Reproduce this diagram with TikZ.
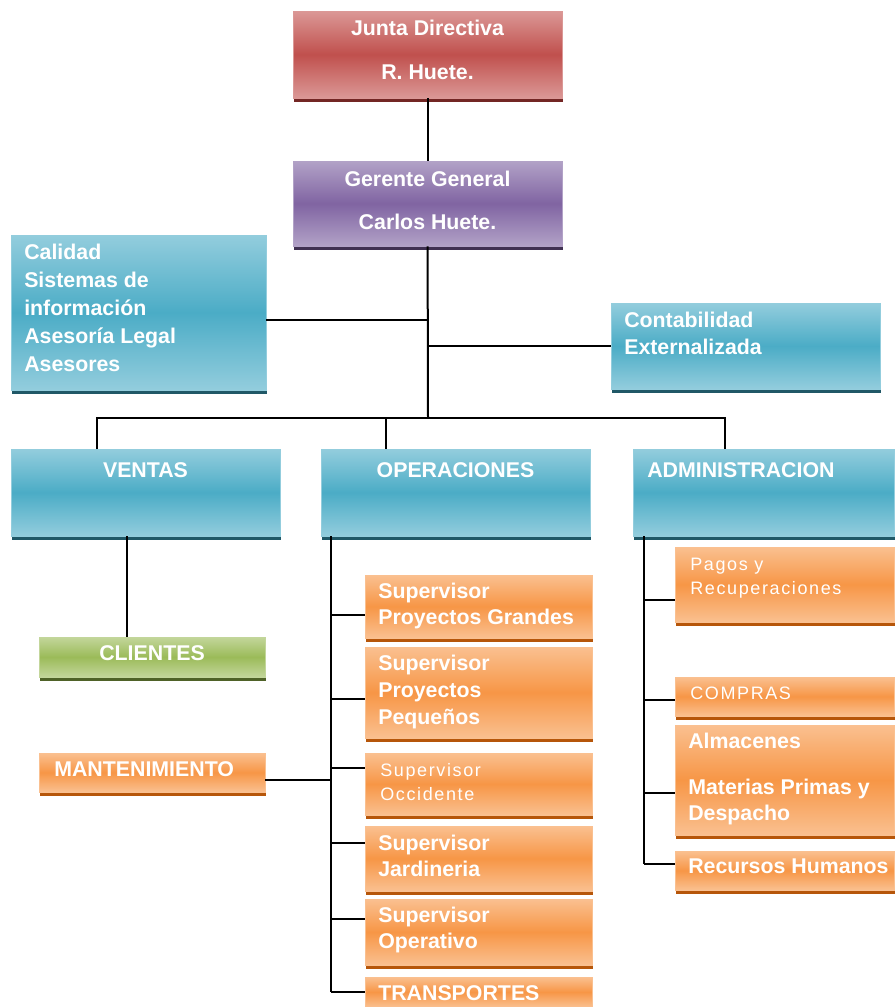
\documentclass[tikz,border=0pt]{standalone}
\usepackage{fontspec}
\setmainfont{Liberation Sans}
\newfontfamily\lightfont[LetterSpace=9]{Liberation Sans}
\usetikzlibrary{calc,shadows}

\definecolor{redmd}{RGB}{192,80,77}
\definecolor{redlt}{RGB}{219,152,150}
\definecolor{reddk}{RGB}{115,38,36}
\definecolor{purmd}{RGB}{128,100,162}
\definecolor{purlt}{RGB}{178,162,199}
\definecolor{purdk}{RGB}{64,49,82}
\definecolor{blumd}{RGB}{75,172,198}
\definecolor{blult}{RGB}{147,205,221}
\definecolor{bludk}{RGB}{32,88,103}
\definecolor{grnmd}{RGB}{155,187,89}
\definecolor{grnlt}{RGB}{195,214,155}
\definecolor{grndk}{RGB}{79,98,40}
\definecolor{ormd}{RGB}{247,150,70}
\definecolor{orlt}{RGB}{250,192,144}
\definecolor{ordk}{RGB}{182,86,10}

\tikzset{
  box/.style 2 args={rectangle, inner sep=0pt, line width=0.6pt, minimum width=#1*0.75pt, minimum height=#2*0.75pt},
  tint/.style n args={3}{top color=#2, bottom color=#2, middle color=#1, draw=#2,
    general shadow={fill=#3, shadow xshift=1pt, shadow yshift=-2.8pt}},
  redbox/.style={tint={redmd}{redlt}{reddk}},
  purbox/.style={tint={purmd}{purlt}{purdk}},
  blubox/.style={tint={blumd}{blult}{bludk}},
  grnbox/.style={tint={grnmd}{grnlt}{grndk}},
  orbox/.style={tint={ormd}{orlt}{ordk}},
  wire/.style={draw=black, line width=1.5pt},
  lbl/.style={text=white, inner sep=0pt, font=\fontsize{16}{#1}\selectfont\bfseries},
  lbl/.default=19.5,
  lbllight/.style={text=white, inner sep=0pt, font=\fontsize{13.5}{#1}\selectfont\lightfont},
  lbllight/.default=18
}

\begin{document}
\begin{tikzpicture}[x=0.75pt,y=0.75pt,yscale=-1,xscale=1]
\useasboundingbox (0,0) rectangle (894,1007);

%Shape: Rectangle [junta, gerente]
\node (junta) [box={269}{87}, redbox] at (427.5,54.5) {};
\node (gerente) [box={269}{85}, purbox] at (427.5,203.5) {};
%Shape: Rectangle [staff]
\node (calidad) [box={255}{155}, blubox] at (138.5,312.5) {};
\node (contab) [box={269}{86}, blubox] at (745.5,346) {};
%Shape: Rectangle [areas]
\node (ventas) [box={269}{87}, blubox] at (145.5,492.5) {};
\node (operaciones) [box={269}{87}, blubox] at (455.5,492.5) {};
\node (administracion) [box={261}{87}, blubox] at (763.5,492.5) {};
%Shape: Rectangle [ventas]
\node (clientes) [box={226}{40}, grnbox] at (152,657) {};
\node (mant) [box={226}{39}, orbox] at (152,772.5) {};
%Shape: Rectangle [operaciones]
\node (grandes) [box={227}{63}, orbox] at (478.5,606.5) {};
\node (pequenos) [box={227}{91}, orbox] at (478.5,692.5) {};
\node (occidente) [box={227}{62}, orbox] at (478.5,784) {};
\node (jardineria) [box={227}{65}, orbox] at (478.5,858.5) {};
\node (operativo) [box={227}{66}, orbox] at (478.5,932) {};
\node (transportes) [box={227}{30}, orbox] at (478.5,992) {};
%Shape: Rectangle [administracion]
\node (pagos) [box={219}{75}, orbox] at (784.5,584.5) {};
\node (compras) [box={219}{39}, orbox] at (784.5,696.5) {};
\node (almacenes) [box={219}{110}, orbox] at (784.5,780) {};
\node (rrhh) [box={219}{39}, orbox] at (784.5,870.5) {};

%Straight Lines
\coordinate (bus) at (428,418);
\coordinate (j1) at (428,320);
\coordinate (dv) at (97,449);
\coordinate (do) at (386,449);
\coordinate (da) at (725,449);
\coordinate (vx) at (127,560);
\coordinate (ox) at (331,600);
\coordinate (ax) at (644,600);
\draw [wire] (junta) -- (gerente);
\draw [wire] (gerente) -- (bus);
\draw [wire] (j1) -- (j1 -| calidad.east);
\draw [wire] (contab.west) -- (contab.west -| bus);
\draw [wire] (dv) |- (bus) -| (da);
\draw [wire] (bus) -| (do);
\draw [wire] (vx |- ventas.south) -- (vx |- clientes.north);
\foreach \n/\f in {grandes/0.63, pequenos/0.57, occidente/0.24, jardineria/0.26, operativo/0.3, transportes/0.5}{
  \coordinate (b-\n) at ($(\n.north west)!\f!(\n.south west)$);
  \draw [wire] (b-\n) -- (ox |- b-\n);
}
\foreach \n/\f in {pagos/0.71, compras/0.59, almacenes/0.62, rrhh/0.33}{
  \coordinate (b-\n) at ($(\n.north west)!\f!(\n.south west)$);
  \draw [wire] (b-\n) -- (ax |- b-\n);
}
\coordinate (b-mant) at ($(mant.north east)!0.69!(mant.south east)$);
\draw [wire] (b-mant) -- (ox |- b-mant);
\draw [wire] (ox |- operaciones.south) -- (ox |- b-transportes);
\draw [wire] (ax |- administracion.south) -- (ax |- b-rrhh);

% Text Node
\draw (427.5,50) node (tjunta) [lbl=33, align=center] {Junta Directiva\\R. Huete.};
% Text Node
\draw (427.5,200.5) node (tgerente) [lbl=32.25, align=center] {Gerente General\\Carlos Huete.};
% Text Node
\draw (24,308) node (tcalidad) [lbl=21, align=left, anchor=west] {Calidad\\Sistemas de\\información\\Asesoría Legal\\Asesores};
% Text Node
\draw (624,333.5) node (tcontab) [lbl=20.25, align=left, anchor=west] {Contabilidad\\Externalizada};
% Text Node
\draw (145.5,470) node (tventas) [lbl] {VENTAS};
% Text Node
\draw (455.5,470) node (toper) [lbl] {OPERACIONES};
% Text Node
\draw (647,470) node (tadmin) [lbl, anchor=west] {ADMINISTRACION};
% Text Node
\draw (152,653) node (tclientes) [lbl] {CLIENTES};
% Text Node
\draw (54,769) node (tmant) [lbl, anchor=west] {MANTENIMIENTO};
% Text Node
\draw (378,606) node (tgrandes) [lbl, align=left, anchor=west] {Supervisor\\Proyectos Grandes};
% Text Node
\draw (378,692) node (tpequenos) [lbl=20.25, align=left, anchor=west] {Supervisor\\Proyectos\\Pequeños};
% Text Node
\draw (380,782) node (toccidente) [lbllight, align=left, anchor=west] {Supervisor\\Occidente};
% Text Node
\draw (378,856) node (tjardineria) [lbl, align=left, anchor=west] {Supervisor\\Jardineria};
% Text Node
\draw (378,930) node (toperativo) [lbl, align=left, anchor=west] {Supervisor\\Operativo};
% Text Node
\draw (378,993) node (ttransportes) [lbl, anchor=west] {TRANSPORTES};
% Text Node
\draw (690,578) node (tpagos) [lbllight, align=left, anchor=west] {Pagos y\\Recuperaciones};
% Text Node
\draw (690,693) node (tcompras) [lbllight, anchor=west] {COMPRAS};
% Text Node
\draw (688,779) node (talmacenes) [lbl, align=left, anchor=west] {Almacenes\\[15pt]Materias Primas y\\Despacho};
% Text Node
\draw (688,866) node (trrhh) [lbl, anchor=west] {Recursos Humanos};

\end{tikzpicture}
\end{document}
